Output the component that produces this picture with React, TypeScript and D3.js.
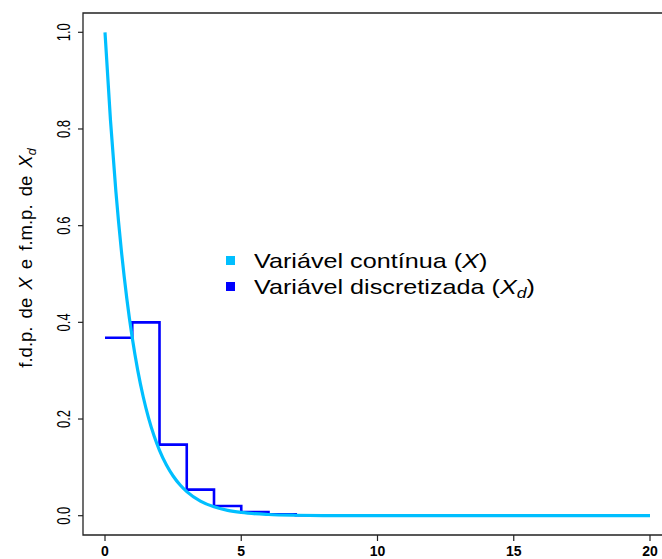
import React from "react";
import * as d3 from "d3";

const contX = [0, 0.2, 0.4, 0.6, 0.8, 1.0, 1.2, 1.4, 1.6, 1.8, 2.0, 2.25, 2.5, 2.75, 3.0, 3.5, 4, 4.5, 5, 6, 7, 8, 10, 12, 15, 20];
const contY = [1, 0.8187, 0.6703, 0.5488, 0.4493, 0.3679, 0.3012, 0.2466, 0.2019, 0.1653, 0.1353, 0.1054, 0.0821, 0.0639, 0.0498, 0.0302, 0.0183, 0.0111, 0.0067, 0.0025, 0.0009, 0.0003, 0.00005, 0, 0, 0];

const discX = [0, 1, 2, 3, 4, 5, 6, 7, 8, 9, 10, 11, 12, 13, 14, 15, 16, 17, 18, 19, 20];
const discY = [0.368, 0.4, 0.147, 0.054, 0.02, 0.0073, 0.0027, 0.001, 0.0004, 0.00013, 0.00005, 0.00002, 0, 0, 0, 0, 0, 0, 0, 0, 0];

const xTicks = [0, 5, 10, 15, 20];
const yTicks = [0.0, 0.2, 0.4, 0.6, 0.8, 1.0];

const legendLabels = ["Variável contínua", "Variável discretizada"];
const colors = ["#00BFFF", "#0000FF"];

export default function App() {
  const W = 662, H = 559;
  const x = d3.scaleLinear().domain([0, 20]).range([105, 650]);
  const y = d3.scaleLinear().domain([0, 1]).range([515.7, 32.3]);
  const font = "'Liberation Sans', Arial, Helvetica, sans-serif";

  const contPts: [number, number][] = contX.map((v, i) => [v, contY[i]]);
  const contLine = d3.line<[number, number]>().x(d => x(d[0])).y(d => y(d[1])).curve(d3.curveMonotoneX);

  const stepPts: [number, number][] = [];
  discX.slice(0, discX.length - 1).forEach((v, i) => {
    stepPts.push([v, discY[i]]);
    stepPts.push([discX[i + 1], discY[i]]);
  });
  const stepLine = d3.line<[number, number]>().x(d => x(d[0])).y(d => y(d[1]));

  return (
    <svg width={W} height={H} style={{ position: "absolute", left: 0, top: 0, background: "#fff" }} fontFamily={font}>
      <rect x={0} y={0} width={W} height={H} fill="#fff" />
      <path d={`M670,13 H83 V535 H670`} fill="none" stroke="#222" strokeWidth={1.3} />
      {yTicks.map(t => (
        <g key={t}>
          <line x1={83} x2={78} y1={y(t)} y2={y(t)} stroke="#222" strokeWidth={1.2} />
          <text transform={`translate(70,${y(t)}) scale(1.35,1) rotate(-90)`} textAnchor="middle" fontSize={13} fill="#000">
            {t.toFixed(1)}
          </text>
        </g>
      ))}
      {xTicks.map(t => (
        <g key={t}>
          <line x1={x(t)} x2={x(t)} y1={535} y2={541} stroke="#222" strokeWidth={1.2} />
          <text x={x(t)} y={556} textAnchor="middle" fontSize={14} fontWeight="bold" fill="#000">
            {t}
          </text>
        </g>
      ))}
      <text transform={`translate(32,258) rotate(-90)`} textAnchor="middle" fontSize={18.5} wordSpacing={3} fill="#000">
        f.d.p. de <tspan fontStyle="italic">X</tspan> e f.m.p. de <tspan fontStyle="italic">X</tspan>
        <tspan fontStyle="italic" fontSize={12.5} dy={4}>d</tspan>
      </text>
      <path d={stepLine(stepPts) || ""} fill="none" stroke={colors[1]} strokeWidth={2.6} strokeLinejoin="miter" />
      <path d={contLine(contPts) || ""} fill="none" stroke={colors[0]} strokeWidth={3.2} />
      <g>
        <rect x={226} y={256} width={9} height={9} fill={colors[0]} />
        <text transform="translate(254,268) scale(1.26,1)" fontSize={20} fill="#000">
          {legendLabels[0]} (<tspan fontStyle="italic">X</tspan>)
        </text>
        <rect x={226} y={282} width={9} height={9} fill={colors[1]} />
        <text transform="translate(254,294) scale(1.26,1)" fontSize={20} fill="#000">
          {legendLabels[1]} (<tspan fontStyle="italic">X</tspan>
          <tspan fontStyle="italic" fontSize={14} dy={4}>d</tspan>
          <tspan dy={-4}>)</tspan>
        </text>
      </g>
    </svg>
  );
}
